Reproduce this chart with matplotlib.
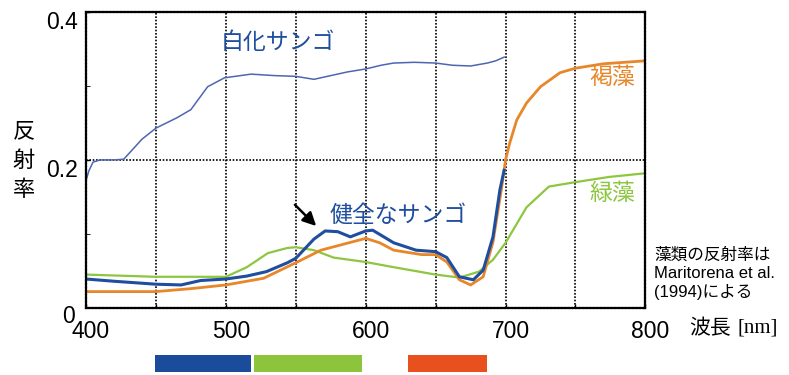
import matplotlib.pyplot as plt
from matplotlib.transforms import ScaledTranslation

plt.rcParams['font.family'] = ['Liberation Sans', 'Noto Sans CJK JP', 'DejaVu Sans']

# bleached coral
wl_bleached = [400, 402, 405, 410, 420, 427, 440, 450, 465, 475, 487, 499, 518, 535, 550,
               563, 575, 587, 600, 611, 620, 635, 650, 662, 675, 687, 693, 699]
r_bleached = [0.172, 0.185, 0.197, 0.200, 0.200, 0.201, 0.228, 0.243, 0.257, 0.268, 0.299,
              0.311, 0.316, 0.314, 0.313, 0.309, 0.314, 0.319, 0.323, 0.328, 0.331, 0.332,
              0.331, 0.328, 0.327, 0.331, 0.334, 0.339]

# healthy coral
wl_healthy = [400, 420, 450, 468, 482, 500, 515, 529, 544, 550, 563, 571, 580, 589, 600,
              605, 620, 636, 650, 658, 667, 677, 684, 691, 696, 699]
r_healthy = [0.039, 0.036, 0.032, 0.031, 0.037, 0.039, 0.043, 0.049, 0.061, 0.067, 0.093,
             0.104, 0.103, 0.096, 0.104, 0.105, 0.088, 0.078, 0.076, 0.068, 0.042, 0.038,
             0.051, 0.096, 0.160, 0.186]

# brown algae
wl_brown = [400, 450, 475, 500, 527, 550, 568, 582, 600, 610, 620, 640, 650, 658, 667, 675,
            684, 691, 697, 700, 703, 708, 715, 725, 739, 750, 770, 785, 800]
r_brown = [0.022, 0.022, 0.026, 0.031, 0.040, 0.061, 0.078, 0.085, 0.094, 0.088, 0.078,
           0.072, 0.072, 0.062, 0.038, 0.031, 0.042, 0.089, 0.160, 0.200, 0.223, 0.254,
           0.277, 0.299, 0.318, 0.324, 0.330, 0.332, 0.334]

# green algae
wl_green = [400, 450, 500, 515, 530, 544, 550, 563, 577, 600, 620, 650, 667, 681, 691, 700,
            715, 731, 750, 774, 800]
r_green = [0.045, 0.042, 0.042, 0.055, 0.074, 0.081, 0.082, 0.078, 0.068, 0.062, 0.055,
           0.045, 0.041, 0.049, 0.065, 0.088, 0.136, 0.164, 0.170, 0.177, 0.182]

# colour bands under the axis (blue, green, red)
band_start = [449, 520, 630]
band_width = [69, 77, 57]
band_color = ['#1b4c9c', '#8cc43c', '#e8501e']

blue = '#1f4e9e'
blue_light = '#4d66b3'
orange = '#e8862a'
green = '#8dc641'
jp = ['Noto Sans CJK JP']

fig = plt.figure(figsize=(7.89, 3.75), dpi=100)
ax = fig.add_axes([0.109, 0.179, 0.709, 0.789])

ax.plot(wl_bleached, r_bleached, color=blue_light, lw=1.1)
ax.plot(wl_green, r_green, color=green, lw=1.6)
ax.plot(wl_brown, r_brown, color=orange, lw=2.0)
ax.plot(wl_healthy, r_healthy, color=blue, lw=2.2)

ax.set_xlim(400, 800)
ax.set_ylim(0, 0.4)
ax.set_xticks([400, 450, 500, 550, 600, 650, 700, 750, 800])
ax.set_xticklabels(['400', '', '500', '', '600', '', '700', '', '800'], fontsize=16.5)
ax.set_yticks([0.2, 0.4])
ax.set_yticklabels(['0.2', '0.4'], fontsize=16.5)
ax.set_yticks([0.1, 0.3], minor=True)
ax.tick_params(direction='in', length=3, width=1, pad=6)
ax.tick_params(axis='y', which='minor', direction='in', length=3)
ax.tick_params(axis='x', pad=9)
for lab in ax.get_xticklabels():
    lab.set_transform(lab.get_transform() + ScaledTranslation(0.05, 0, fig.dpi_scale_trans))
for lab in ax.get_yticklabels():
    lab.set_transform(lab.get_transform() + ScaledTranslation(0, -0.08, fig.dpi_scale_trans))
ax.grid(True, color='black', linestyle=(0, (1, 1)), lw=1.2)
for s in ax.spines.values():
    s.set_linewidth(1.6)
    s.set_linestyle((0, (1, 0.6)))

ax.text(-0.032, -0.03, '0', transform=ax.transAxes, fontsize=16.5, ha='center', va='center')

ax.text(0.24, 0.875, '白化サンゴ', transform=ax.transAxes, color=blue, fontsize=16.5,
        family=jp)
ax.text(0.436, 0.29, '健全なサンゴ', transform=ax.transAxes, color=blue, fontsize=16.5,
        family=jp)
ax.annotate('', xy=(566, 0.108), xytext=(548, 0.142),
            arrowprops=dict(arrowstyle='-|>', color='black', lw=1.8, mutation_scale=20))
ax.text(0.9, 0.755, '褐藻', transform=ax.transAxes, color=orange, fontsize=16.5, family=jp)
ax.text(0.9, 0.365, '緑藻', transform=ax.transAxes, color=green, fontsize=16.5, family=jp)

fig.text(0.03, 0.573, '反\n射\n率', fontsize=16, ha='center', va='center', linespacing=1.38,
         family=jp)
fig.text(0.874, 0.125, '波長', fontsize=15, ha='left', va='center', family=jp)
fig.text(0.935, 0.125, '[nm]', fontsize=15, ha='left', va='center', family=['Liberation Serif'])
fig.text(0.829, 0.269, '藻類の反射率は\nMaritorena et al.\n(1994)による', fontsize=12,
         ha='left', va='center', linespacing=1.25,
         family=['Liberation Sans', 'Noto Sans CJK JP'])

axb = fig.add_axes([0.109, 0.008, 0.709, 0.045])
axb.barh([0, 0, 0], band_width, left=band_start, color=band_color, height=1.0)
axb.set_xlim(400, 800)
axb.set_ylim(-0.5, 0.5)
axb.axis('off')

fig.savefig('out.png', dpi=100)
